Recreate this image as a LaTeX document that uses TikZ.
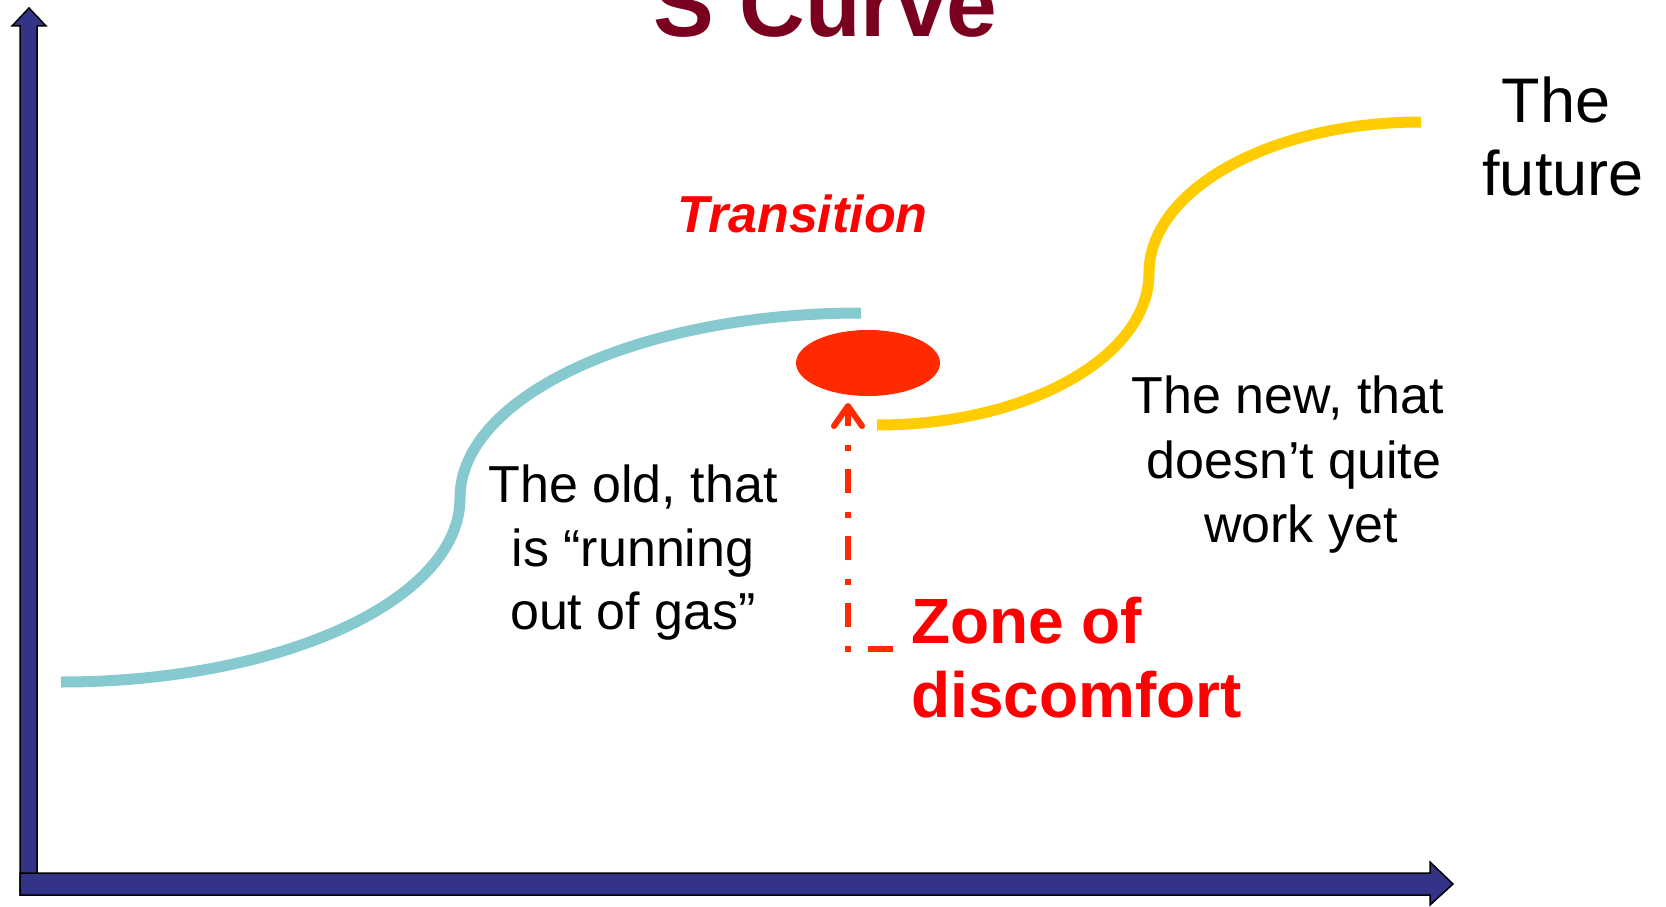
\documentclass[tikz,border=0pt]{standalone}
\usepackage{fontspec}
\setmainfont{Liberation Sans}
\usetikzlibrary{shapes.geometric,arrows.meta}
\definecolor{axisblue}{RGB}{51,51,136}
\definecolor{teal1}{RGB}{134,202,208}
\definecolor{yell}{RGB}{255,204,0}
\definecolor{blobred}{RGB}{255,42,0}
\definecolor{titlered}{RGB}{122,0,32}
\definecolor{txtred}{RGB}{255,0,0}
\tikzset{
  axisarrow/.style={fill=axisblue, draw=black, line width=1.5pt, line join=miter},
  curve/.style={line width=11pt, line cap=butt},
  txt/.style={inner sep=0pt, anchor=base, font=\fontsize{52}{62}\selectfont},
  bigtxt/.style={inner sep=0pt, anchor=base, font=\fontsize{63}{74}\selectfont},
  zonetxt/.style={inner sep=0pt, anchor=base west, text=txtred, font=\fontsize{64}{74}\selectfont\bfseries},
}
\begin{document}
\begin{tikzpicture}[x=1pt,y=-1pt]
\useasboundingbox (0,0) rectangle (1666,907);
% axes
\draw[axisarrow] (20,895) -- (20,26) -- (12,26) -- (29,8) -- (46,26) -- (37,26) -- (37,895) -- cycle;
\draw[axisarrow] (20,873) -- (1430,873) -- (1430,862) -- (1453,884) -- (1430,905) -- (1430,895) -- (20,895) -- cycle;
% title
\node[inner sep=0pt, anchor=base, text=titlered, font=\fontsize{91}{100}\selectfont\bfseries] (title) at (825.5,37) {S Curve};
% curves
\draw[curve, teal1] (61,682) .. controls (281,682) and (460,600) .. (460,498)
  .. controls (460,396) and (640,313) .. (861,313);
\draw[curve, yell] (877,425) .. controls (1027,425) and (1149,357) .. (1149,273)
  .. controls (1149,190) and (1271,122) .. (1421,122);
% transition blob
\node[ellipse, fill=blobred, inner sep=0pt, minimum width=144pt, minimum height=66pt] (blob) at (868,363) {};
\node[inner sep=0pt, anchor=base, text=txtred, font=\fontsize{52}{62}\selectfont\bfseries\itshape] (trans) at (802.5,232) {Transition};
% dashed arrow
\coordinate (zbot) at (848,652);
\coordinate (ztip) at (848,403);
\draw[blobred, line width=6pt, dash pattern=on 6pt off 19pt on 24pt off 18pt,
  -{Straight Barb[length=20pt,width=28pt,round]}] (zbot) -- (ztip);
\coordinate (dashL) at (868,649);
\coordinate (dashR) at (893,649);
\draw[blobred, line width=6pt] (dashL) -- (dashR);
% texts
\node[txt] (old1) at (633,502) {The old, that};
\node[txt] (old2) at (633,566) {is “running};
\node[txt] (old3) at (633,629) {out of gas”};
\node[txt] (new1) at (1288,413) {The new, that};
\node[txt] (new2) at (1294,478) {doesn’t quite};
\node[txt] (new3) at (1301,542) {work yet};
\node[bigtxt] (fut1) at (1556,122) {The};
\node[bigtxt] (fut2) at (1563,195) {future};
\node[zonetxt] (zone1) at (911,643) {Zone of};
\node[zonetxt] (zone2) at (911,717) {discomfort};
\end{tikzpicture}
\end{document}
